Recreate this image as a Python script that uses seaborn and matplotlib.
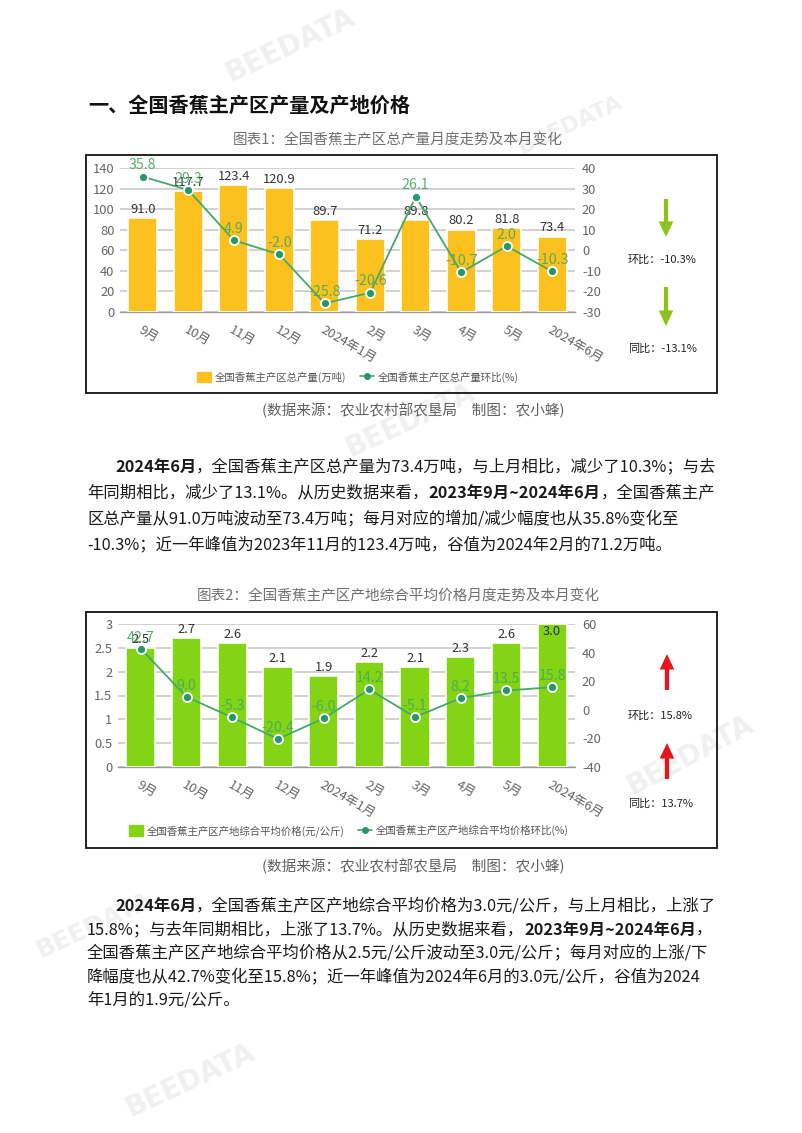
import numpy as np
import pandas as pd
import matplotlib
matplotlib.use("Agg")
import matplotlib.pyplot as plt
import seaborn as sns
from matplotlib.patches import Rectangle, FancyArrowPatch, Patch
from matplotlib.lines import Line2D

# ---------------- data ----------------
months = ['9月', '10月', '11月', '12月', '2024年1月', '2月', '3月', '4月', '5月', '2024年6月']
output = [91.0, 117.7, 123.4, 120.9, 89.7, 71.2, 89.8, 80.2, 81.8, 73.4]
output_mom = [35.8, 29.3, 4.9, -2.0, -25.8, -20.6, 26.1, -10.7, 2.0, -10.3]
price = [2.5, 2.7, 2.6, 2.1, 1.9, 2.2, 2.1, 2.3, 2.6, 3.0]
price_mom = [42.7, 9.0, -5.3, -20.4, -6.0, 14.2, -5.1, 8.2, 13.5, 15.8]

heading = '一、全国香蕉主产区产量及产地价格'
title1 = '图表1：全国香蕉主产区总产量月度走势及本月变化'
title2 = '图表2：全国香蕉主产区产地综合平均价格月度走势及本月变化'
source = '(数据来源：农业农村部农垦局　制图：农小蜂)'
legend1 = ['全国香蕉主产区总产量(万吨)', '全国香蕉主产区总产量环比(%)']
legend2 = ['全国香蕉主产区产地综合平均价格(元/公斤)', '全国香蕉主产区产地综合平均价格环比(%)']
side1 = ['环比：-10.3%', '同比：-13.1%']
side2 = ['环比：15.8%', '同比：13.7%']

para1 = [
    [('2024年6月', True), ('，全国香蕉主产区总产量为73.4万吨，与上月相比，减少了10.3%；与去', False)],
    [('年同期相比，减少了13.1%。从历史数据来看，', False), ('2023年9月~2024年6月', True), ('，全国香蕉主产', False)],
    [('区总产量从91.0万吨波动至73.4万吨；每月对应的增加/减少幅度也从35.8%变化至', False)],
    [('-10.3%；近一年峰值为2023年11月的123.4万吨，谷值为2024年2月的71.2万吨。', False)],
]
para2 = [
    [('2024年6月', True), ('，全国香蕉主产区产地综合平均价格为3.0元/公斤，与上月相比，上涨了', False)],
    [('15.8%；与去年同期相比，上涨了13.7%。从历史数据来看，', False), ('2023年9月~2024年6月', True), ('，', False)],
    [('全国香蕉主产区产地综合平均价格从2.5元/公斤波动至3.0元/公斤；每月对应的上涨/下', False)],
    [('降幅度也从42.7%变化至15.8%；近一年峰值为2024年6月的3.0元/公斤，谷值为2024', False)],
    [('年1月的1.9元/公斤。', False)],
]

# ---------------- style ----------------
sns.set_theme(style='white')
plt.rcParams['font.family'] = ['Noto Sans CJK SC', 'DejaVu Sans']
plt.rcParams['axes.unicode_minus'] = False

W, H = 802, 1133
fig = plt.figure(figsize=(W / 100, H / 100), dpi=100)
fig.patch.set_facecolor('white')
renderer = fig.canvas.get_renderer()


def fx(x):
    return x / W


def fy(y):
    return 1 - y / H


YEL = '#FCC11E'
LIME = '#82D414'
LINE_C = '#46A868'
MK_C = '#23996A'
LBL_G = '#46A95C'
GRID = '#d2d2d2'
TXT = '#666666'


def combo_chart(rect, cats, bars, mom, bar_color, ylim, yticks, ylim2, yticks2):
    ax = fig.add_axes(rect)
    df = pd.DataFrame({'cat': cats, 'val': bars})
    sns.barplot(data=df, x='cat', y='val', ax=ax, color=bar_color, saturation=1,
                width=0.64, edgecolor='white', linewidth=1.2, zorder=3)
    ax.set_ylim(*ylim)
    ax.set_yticks(yticks)
    ax.set_yticklabels([f'{t:g}' for t in yticks])
    ax.yaxis.grid(True, color=GRID, lw=1.4)
    ax.set_axisbelow(True)
    ax.set_xlabel('')
    ax.set_ylabel('')
    for s in ['top', 'left', 'right']:
        ax.spines[s].set_visible(False)
    ax.spines['bottom'].set_color('#9a9a9a')
    ax.spines['bottom'].set_linewidth(1.0)
    ax.tick_params(axis='y', length=0, labelsize=9.3, labelcolor=TXT, pad=4)
    ax.set_xticks(range(len(cats)))
    ax.set_xticklabels(cats, rotation=-30, ha='left', va='top', rotation_mode='anchor')
    ax.tick_params(axis='x', which='major', length=0, labelsize=9.3, labelcolor=TXT, pad=8)
    ax.set_xticks(np.arange(-0.5, len(cats), 1), minor=True)
    ax.tick_params(axis='x', which='minor', length=4, color='#9a9a9a', width=1)
    top = ylim[1]
    for i, v in enumerate(bars):
        if v / top > 0.97:
            ax.annotate(f'{v:.1f}', (i, v), xytext=(0, -1), textcoords='offset points',
                        ha='center', va='top', fontsize=9.3, color='#333333', zorder=6)
        else:
            ax.annotate(f'{v:.1f}', (i, v), xytext=(0, 1.5), textcoords='offset points',
                        ha='center', va='bottom', fontsize=9.3, color='#333333', zorder=6)

    ax2 = ax.twinx()
    sns.lineplot(x=np.arange(len(cats)), y=mom, ax=ax2, sort=False, color=LINE_C, lw=1.3,
                 marker='o', markersize=6.5, markerfacecolor=MK_C, markeredgecolor='white',
                 markeredgewidth=1.3, zorder=5)
    ax2.set_ylim(*ylim2)
    ax2.set_yticks(yticks2)
    ax2.set_yticklabels([f'{t:g}' for t in yticks2])
    ax2.set_ylabel('')
    ax2.set_xlabel('')
    for s in ['top', 'left', 'right', 'bottom']:
        ax2.spines[s].set_visible(False)
    ax2.tick_params(axis='y', length=0, labelsize=9.3, labelcolor=TXT, pad=5)
    ax2.grid(False)
    for i, v in enumerate(mom):
        ax2.annotate(f'{v:.1f}', (i, v), xytext=(0, 3), textcoords='offset points',
                     ha='center', va='bottom', fontsize=10.3, color=LBL_G, alpha=0.9, zorder=7)
    ax.set_xlim(-0.5, len(cats) - 0.5)
    ax2.set_xlim(-0.5, len(cats) - 0.5)
    return ax, ax2


def add_box(x0, y0, x1, y1):
    fig.add_artist(Rectangle((fx(x0), fy(y1)), (x1 - x0) / W, (y1 - y0) / H,
                             transform=fig.transFigure, fill=False, edgecolor='#111111', lw=1.3))


def add_arrow(x, y_tail, y_head, color):
    fig.add_artist(FancyArrowPatch((fx(x), fy(y_tail)), (fx(x), fy(y_head)),
                                   transform=fig.transFigure,
                                   arrowstyle='simple,head_length=0.8,head_width=0.75,tail_width=0.22',
                                   mutation_scale=14, color=color, shrinkA=0, shrinkB=0, lw=0))


def add_legend(labels, color, cx, cy):
    handles = [Patch(facecolor=color, edgecolor=color),
               Line2D([], [], color=LINE_C, lw=1.2, marker='o', markersize=4,
                      markerfacecolor=MK_C, markeredgecolor=MK_C)]
    leg = fig.legend(handles, labels, loc='center', bbox_to_anchor=(fx(cx), fy(cy)), ncol=2,
                     frameon=False, fontsize=7.5, handlelength=1.3, handleheight=1.2,
                     columnspacing=1.3, handletextpad=0.4)
    for t in leg.get_texts():
        t.set_color('#555555')


def draw_line(segs, x0, y, size):
    x = x0
    for txt, bold in segs:
        t = fig.text(fx(x), fy(y), txt, fontsize=size, fontweight='bold' if bold else 'normal',
                     ha='left', va='center', color='#1a1a1a')
        x += t.get_window_extent(renderer=renderer).width


# ---------------- watermarks (very faint) ----------------
for (wx, wy, rot, sz) in [(290, 45, 25, 20), (410, 420, 25, 20), (690, 755, 28, 20),
                          (95, 925, 25, 18), (190, 1080, 25, 20), (570, 125, 25, 16)]:
    fig.text(fx(wx), fy(wy), 'BEEDATA', fontsize=sz, fontweight='bold', color='#f0f0f0',
             rotation=rot, ha='center', va='center', zorder=0, family='DejaVu Sans')

# ---------------- heading ----------------
fig.text(fx(88), fy(105), heading, fontsize=14.5, fontweight='bold', ha='left', va='center',
         color='#111111')

# ---------------- chart 1 ----------------
fig.text(fx(398), fy(140), title1, fontsize=10.5, ha='center', va='center', color='#707070')
add_box(86, 155, 717, 393)
combo_chart([fx(120), fy(312), (575 - 120) / W, (312 - 168) / H], months, output, output_mom,
            YEL, (0, 140), list(range(0, 141, 20)), (-30, 40), list(range(-30, 41, 10)))
add_legend(legend1, YEL, 358, 377)
add_arrow(666, 199, 237, '#8CC21E')
add_arrow(666, 287, 326, '#8CC21E')
fig.text(fx(628), fy(260), side1[0], fontsize=8, ha='left', va='center', color='#222222')
fig.text(fx(628), fy(349), side1[1], fontsize=8, ha='left', va='center', color='#222222')
fig.text(fx(413), fy(410), source, fontsize=10.5, ha='center', va='center', color='#606060')

for k, segs in enumerate(para1):
    draw_line(segs, 115 if k == 0 else 87, 467 + 26 * k, 11.75)

# ---------------- chart 2 ----------------
fig.text(fx(398), fy(597), title2, fontsize=10.5, ha='center', va='center', color='#707070')
add_box(86, 612, 717, 848)
combo_chart([fx(118), fy(767), (575 - 118) / W, (767 - 624) / H], months, price, price_mom,
            LIME, (0, 3), [0, 0.5, 1, 1.5, 2, 2.5, 3], (-40, 60), list(range(-40, 61, 20)))
add_legend(legend2, LIME, 349, 831)
add_arrow(667, 690, 654, '#E8141C')
add_arrow(667, 779, 743, '#E8141C')
fig.text(fx(628), fy(716), side2[0], fontsize=8, ha='left', va='center', color='#222222')
fig.text(fx(628), fy(804), side2[1], fontsize=8, ha='left', va='center', color='#222222')
fig.text(fx(413), fy(866), source, fontsize=10.5, ha='center', va='center', color='#606060')

for k, segs in enumerate(para2):
    draw_line(segs, 115 if k == 0 else 87, 906 + 23.5 * k, 11.75)

fig.savefig('out.png', dpi=100, facecolor='white')
